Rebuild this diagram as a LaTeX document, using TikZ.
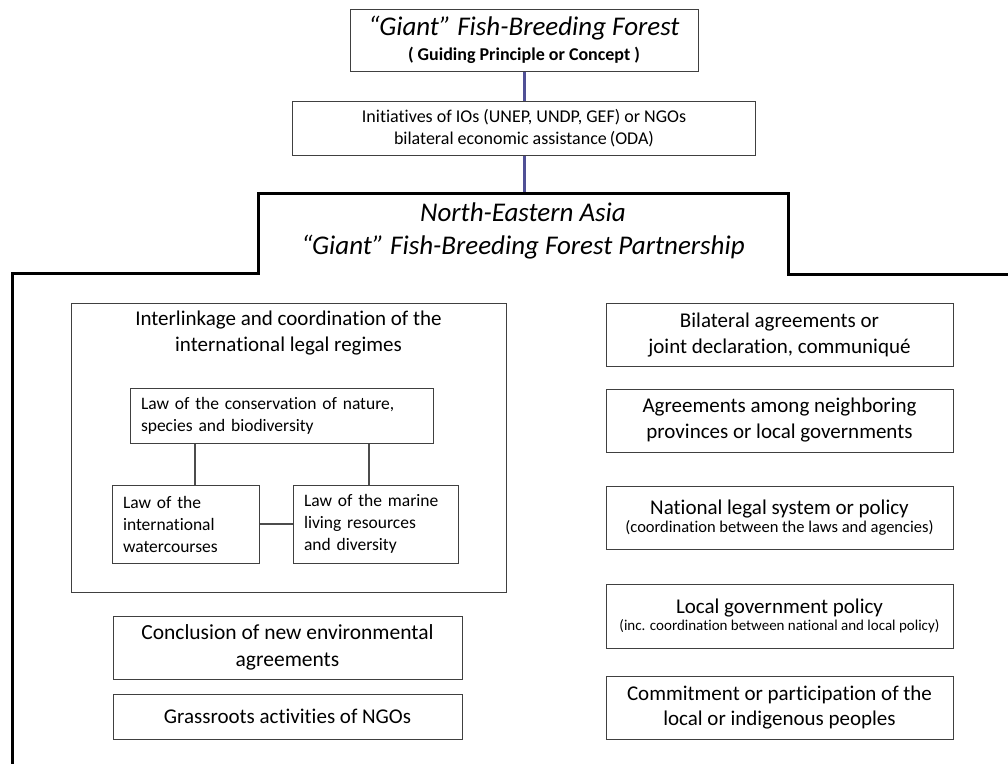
\documentclass[tikz,border=0pt]{standalone}
\usepackage{fontspec}
\setmainfont{Carlito}[Ligatures=NoCommon]
\definecolor{stemblue}{RGB}{80,80,150}

\begin{document}
\begin{tikzpicture}[x=1pt,y=-1pt,
  box/.style={draw=black!75,line width=1pt,inner sep=0pt,align=center,minimum width=347pt,minimum height=63pt},
  lawbox/.style={draw=black!75,line width=1pt,inner xsep=11pt,inner ysep=0pt,align=left,font=\fontsize{17.5}{22}\selectfont},
  link/.style={draw=black!70,line width=1.2pt},
  stem/.style={draw=stemblue,line width=3pt},
  frame/.style={draw=black,line width=3pt,line join=miter}]
\path[use as bounding box,fill=white] (0,0) rectangle (1008,764);

\node[box,minimum width=348pt,minimum height=62pt] (concept) at (524,40) {{\itshape\fontsize{27}{28}\selectfont “Giant” Fish-Breeding Forest}\\[6pt] {\bfseries\fontsize{18}{20}\selectfont ( Guiding Principle or Concept )}};
\node[box,minimum width=463pt,minimum height=54pt,font=\fontsize{18}{22}\selectfont] (ini) at (524,128) {Initiatives of IOs (UNEP, UNDP, GEF) or NGOs\\bilateral economic assistance\,(ODA)};
\coordinate (ptop) at (524,193);
\draw[stem] (concept.south) -- (ini.north);
\draw[stem] (ini.south) -- (ptop);

\draw[frame] (1008,274) -- (788,274) -- (788,193) -- (258,193) -- (258,273) -- (12,273) -- (12,764);
\node[align=center,font=\itshape\fontsize{27}{33}\selectfont] (ptitle) at (523,231) {North-Eastern Asia\\“Giant” Fish-Breeding Forest Partnership};

\node[box,minimum width=435pt,minimum height=289pt] (regimes) at (288.5,447.5) {};
\node[align=center,font=\fontsize{21}{26}\selectfont] (regtitle) at (288.5,333) {Interlinkage and coordination of the\\international legal regimes};
\node[lawbox,text width=281pt,minimum height=55pt] (cons) at (281.5,415.5) {Law of the conservation of nature,\\species and biodiversity};
\node[lawbox,text width=125pt,minimum height=78pt] (water) at (185.5,524) {Law of the\\international\\watercourses};
\node[lawbox,text width=143pt,minimum height=78pt] (marine) at (375.5,524) {Law of the marine\\living resources\\and diversity};
\draw[link] ([xshift=9.5pt]water.north) -- ([xshift=9.5pt]water.north |- cons.south);
\draw[link] ([xshift=-6.5pt]marine.north) -- ([xshift=-6.5pt]marine.north |- cons.south);
\draw[link] (water.east) -- (marine.west);

\node[box,minimum width=349pt,font=\fontsize{21.5}{27}\selectfont] (newagr) at (287.5,647.5) {Conclusion of new environmental\\agreements};
\node[box,minimum width=349pt,minimum height=45pt,font=\fontsize{21}{24}\selectfont] (ngo) at (287.5,716.5) {Grassroots activities of NGOs};

\node[box,font=\fontsize{21}{26}\selectfont] (bilat) at (779.5,334.5) {Bilateral agreements or\\joint declaration, communiqué};
\node[box,font=\fontsize{21}{26}\selectfont] (neigh) at (779.5,420.5) {Agreements among neighboring\\provinces or local governments};
\node[box] (natl) at (779.5,517.5) {{\fontsize{21}{24}\selectfont National legal system or policy}\\[2pt]{\fontsize{16.5}{18}\selectfont (coordination between the laws and agencies)}};
\node[box,minimum height=64pt] (localgov) at (779.5,616) {{\fontsize{21}{24}\selectfont Local government policy}\\[2pt]{\fontsize{15}{16}\selectfont (inc. coordination between national and local policy)}};
\node[box,font=\fontsize{21}{25}\selectfont] (indig) at (779.5,707.5) {Commitment or participation of the\\local or indigenous peoples};
\end{tikzpicture}
\end{document}
